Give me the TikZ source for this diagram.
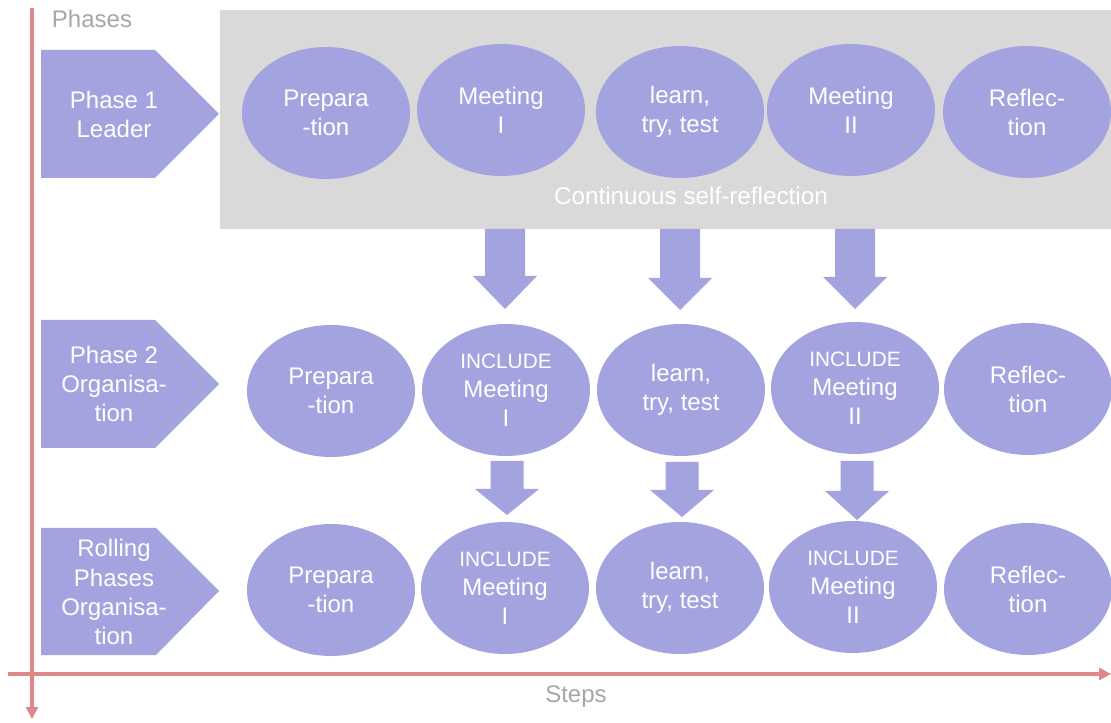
\documentclass[tikz,border=0pt]{standalone}
\usepackage{fontspec}
\setmainfont{Liberation Sans}
\usetikzlibrary{shapes.geometric,arrows.meta}
\definecolor{ellfill}{HTML}{A3A3E0}
\definecolor{axisred}{HTML}{E08888}
\definecolor{bggray}{HTML}{D9D9D9}
\definecolor{labgray}{HTML}{A6A6A6}
\newcommand{\incfont}{\fontsize{15.6}{17}\selectfont}
\newcommand{\blockarr}[6]{%
  \fill[ellfill] (#1-#2,#4) -- (#1+#2,#4) -- (#1+#2,#5) -- (#1+#3,#5) -- (#1,#6) -- (#1-#3,#5) -- (#1-#2,#5) -- cycle;}
\newcommand{\pentagonshape}[4]{%
  \fill[ellfill] (41,#1) -- (#3,#1) -- (219,#4) -- (#3,#2) -- (41,#2) -- cycle;}
\begin{document}
\begin{tikzpicture}[x=0.75pt,y=-0.75pt,
  ell/.style={ellipse,fill=ellfill,minimum width=126pt,minimum height=99pt,inner sep=0pt,
    text=white,font=\fontsize{18}{21.8}\selectfont,align=center},
  phasetxt/.style={text=white,font=\fontsize{18}{21.8}\selectfont,align=center},
  axis/.style={axisred,line width=3.2pt,-{Triangle[length=9pt,width=9pt]}},
  lab/.style={text=labgray,font=\fontsize{18}{20}\selectfont}]
\useasboundingbox (0,0) rectangle (1111,723);
% background box
\fill[bggray] (220,10) rectangle (1111,229);
\node[text=white,font=\fontsize{18.2}{20}\selectfont] (csr) at (691,196) {Continuous self-reflection};
% axes
\coordinate (vtop) at (32,8);
\coordinate (vbot) at (32,719);
\coordinate (hleft) at (8,674);
\coordinate (hright) at (1111,674);
\draw[axis] (vtop) -- (vbot);
\draw[axis] (hleft) -- (hright);
\node[lab] (phases) at (92,19) {Phases};
\node[lab] (steps) at (576,697) {Steps};
% pentagons
\pentagonshape{50}{178}{155}{114}
\pentagonshape{320}{448}{155}{384}
\pentagonshape{528}{655}{156}{591}
\node[phasetxt] (p1) at (114,114) {Phase 1\\Leader};
\node[phasetxt] (p2) at (114,384) {Phase 2\\Organisa-\\tion};
\node[phasetxt] (p3) at (114,592) {Rolling\\Phases\\Organisa-\\tion};
% row 1
\node[ell] (a1) at (326,113) {Prepara\\-tion};
\node[ell] (a2) at (501,110) {Meeting\\I};
\node[ell] (a3) at (680,112) {learn,\\try, test};
\node[ell] (a4) at (851,110) {Meeting\\II};
\node[ell] (a5) at (1027,112) {Reflec-\\tion};
% row 2
\node[ell] (b1) at (331,391) {Prepara\\-tion};
\node[ell] (b2) at (506,390) {{\incfont INCLUDE}\\Meeting\\I};
\node[ell] (b3) at (681,390) {learn,\\try, test};
\node[ell] (b4) at (855,388) {{\incfont INCLUDE}\\Meeting\\II};
\node[ell] (b5) at (1028,389) {Reflec-\\tion};
% row 3
\node[ell] (c1) at (331,590) {Prepara\\-tion};
\node[ell] (c2) at (505,588) {{\incfont INCLUDE}\\Meeting\\I};
\node[ell] (c3) at (680,588) {learn,\\try, test};
\node[ell] (c4) at (853,587) {{\incfont INCLUDE}\\Meeting\\II};
\node[ell] (c5) at (1028,589) {Reflec-\\tion};
% block arrows row1 -> row2
\blockarr{505}{20}{32}{229}{276}{309}
\blockarr{680}{20}{32}{229}{278}{310}
\blockarr{855}{20}{32}{229}{277}{309}
% block arrows row2 -> row3
\blockarr{507}{16.5}{32}{461}{489}{515}
\blockarr{682}{16.5}{32}{462}{490}{517}
\blockarr{857}{16.5}{32}{461}{491}{520}
\end{tikzpicture}
\end{document}
